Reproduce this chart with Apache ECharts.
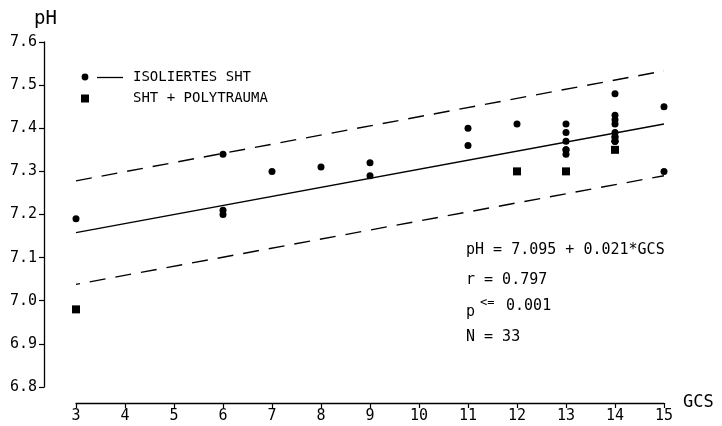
<!DOCTYPE html>
<html>
<head>
<meta charset="utf-8">
<script src="https://cdn.jsdelivr.net/npm/echarts@6/dist/echarts.min.js"></script>
<style>
  html, body { margin: 0; padding: 0; background: #fff; }
  #chart { width: 722px; height: 426px; }
</style>
</head>
<body>
<div id="chart"></div>
<script>
// Isolated head injury (isoliertes SHT): GCS and pH per patient
const isoGcs = [3, 6, 6, 6, 7, 8, 9, 9, 11, 11, 12,
  13, 13, 13, 13, 13, 13,
  14, 14, 14, 14, 14, 14, 14, 14, 14, 14,
  15, 15];
const isoPh = [7.19, 7.34, 7.21, 7.20, 7.30, 7.31, 7.32, 7.29, 7.40, 7.36, 7.41,
  7.41, 7.39, 7.37, 7.35, 7.35, 7.34,
  7.48, 7.43, 7.42, 7.41, 7.39, 7.38, 7.38, 7.37, 7.37, 7.37,
  7.45, 7.30];

// Head injury with polytrauma
const polyGcs = [3, 12, 13, 14];
const polyPh = [6.98, 7.30, 7.30, 7.35];

// Regression line and its band, given at GCS 3 and 15
const lineGcs = [3, 15];
const fitPh = [7.158, 7.410];
const upperPh = [7.278, 7.533];
const lowerPh = [7.038, 7.290];

// Axis ticks
const gcsTicks = [3, 4, 5, 6, 7, 8, 9, 10, 11, 12, 13, 14, 15];
const phTicks = [6.8, 6.9, 7.0, 7.1, 7.2, 7.3, 7.4, 7.5, 7.6];

// Statistics printed on the chart
const statLines = ['pH = 7.095 + 0.021*GCS', 'r = 0.797', '<= 0.001', 'N = 33'];
const legendNames = ['ISOLIERTES SHT', 'SHT + POLYTRAUMA'];

const pairs = (xs, ys) => xs.map((x, i) => [x, ys[i]]);
const FONT = "'DejaVu Sans Mono', 'Liberation Mono', monospace";
const INK = '#000';

const chart = echarts.init(document.getElementById('chart'), null, { renderer: 'canvas' });

chart.setOption({
  backgroundColor: '#fff',
  animation: false,
  grid: { left: 76, right: 58, top: 42, bottom: 39 },
  xAxis: {
    type: 'value',
    min: gcsTicks[0],
    max: gcsTicks[gcsTicks.length - 1],
    interval: 1,
    offset: 16,
    name: 'GCS',
    nameLocation: 'end',
    nameGap: 19,
    nameTextStyle: { fontFamily: FONT, fontSize: 17, color: INK, verticalAlign: 'middle' },
    axisLine: { show: true, lineStyle: { color: INK, width: 1.3 } },
    axisTick: { show: true, length: 5, lineStyle: { color: INK, width: 1.2 } },
    axisLabel: { fontFamily: FONT, fontSize: 15, color: INK, margin: 6,
      formatter: v => gcsTicks.includes(v) ? String(v) : '' },
    splitLine: { show: false }
  },
  yAxis: {
    type: 'value',
    min: phTicks[0],
    max: phTicks[phTicks.length - 1],
    interval: 0.1,
    offset: 32,
    name: 'pH',
    nameLocation: 'end',
    nameGap: 13,
    nameTextStyle: { fontFamily: FONT, fontSize: 19, color: INK, align: 'left', padding: [0, 0, 0, -10] },
    axisLine: { show: true, lineStyle: { color: INK, width: 1.3 } },
    axisTick: { show: true, length: 5, lineStyle: { color: INK, width: 1.2 } },
    axisLabel: { fontFamily: FONT, fontSize: 15, color: INK, margin: 7,
      formatter: v => v.toFixed(1) },
    splitLine: { show: false }
  },
  series: [
    {
      name: 'Regression',
      type: 'line',
      data: pairs(lineGcs, fitPh),
      symbol: 'none',
      lineStyle: { color: INK, width: 1.4 },
      z: 2
    },
    {
      name: 'Obere Grenze',
      type: 'line',
      data: pairs(lineGcs, upperPh),
      symbol: 'none',
      lineStyle: { color: INK, width: 1.4, type: [16, 10] },
      z: 2
    },
    {
      name: 'Untere Grenze',
      type: 'line',
      data: pairs(lineGcs, lowerPh),
      symbol: 'none',
      lineStyle: { color: INK, width: 1.4, type: [16, 10], dashOffset: 12 },
      z: 2
    },
    {
      name: legendNames[0],
      type: 'scatter',
      data: pairs(isoGcs, isoPh),
      symbol: 'circle',
      symbolSize: 7,
      itemStyle: { color: INK, opacity: 1 },
      z: 3
    },
    {
      name: legendNames[1],
      type: 'scatter',
      data: pairs(polyGcs, polyPh),
      symbol: 'rect',
      symbolSize: 8,
      itemStyle: { color: INK, opacity: 1 },
      z: 3
    }
  ],
  graphic: [
    // Legend
    { type: 'circle', shape: { cx: 85, cy: 77, r: 3.4 }, style: { fill: INK } },
    { type: 'line', shape: { x1: 97, y1: 77.5, x2: 123, y2: 77.5 }, style: { stroke: INK, lineWidth: 1.3 } },
    { type: 'text', left: 133, top: 70, style: { text: legendNames[0], font: '14px ' + FONT, fill: INK } },
    { type: 'rect', shape: { x: 81, y: 94.5, width: 8, height: 8 }, style: { fill: INK } },
    { type: 'text', left: 133, top: 91, style: { text: legendNames[1], font: '14px ' + FONT, fill: INK } },
    // Regression statistics
    { type: 'text', left: 466, top: 243, style: { text: statLines[0], font: '15px ' + FONT, fill: INK } },
    { type: 'text', left: 466, top: 273, style: { text: statLines[1], font: '15px ' + FONT, fill: INK } },
    { type: 'text', left: 466, top: 305, style: { text: 'p', font: '15px ' + FONT, fill: INK } },
    { type: 'text', left: 480, top: 297, style: { text: statLines[2].slice(0, 2), font: '12px ' + FONT, fill: INK } },
    { type: 'text', left: 497, top: 299, style: { text: statLines[2].slice(2), font: '15px ' + FONT, fill: INK } },
    { type: 'text', left: 466, top: 330, style: { text: statLines[3], font: '15px ' + FONT, fill: INK } }
  ]
});
</script>
</body>
</html>
